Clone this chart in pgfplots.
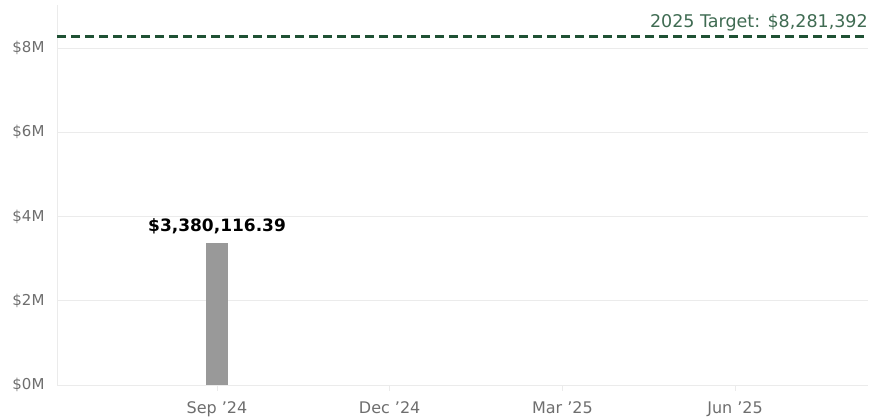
\documentclass[border=0pt]{standalone}
\usepackage{fontspec}
\setmainfont{DejaVu Sans}
\usepackage{pgfplots}
\pgfplotsset{compat=1.18}
\definecolor{gridgray}{HTML}{EBEBEB}
\definecolor{tickgray}{HTML}{6E6E6E}
\definecolor{bargray}{HTML}{999999}
\definecolor{targetgreen}{HTML}{1F5134}
\definecolor{targettext}{HTML}{3F6B52}
\begin{document}
\begin{tikzpicture}
\path[use as bounding box] (0,0) rectangle (870pt,420pt);
\begin{axis}[
    at={(57pt,35pt)}, anchor=south west,
    scale only axis,
    width=811pt, height=380pt,
    xmin=-2.78, xmax=11.31,
    ymin=0, ymax=9.02,
    axis line style={draw=none},
    xtick={0,3,6,9},
    xticklabels={Sep '24, Dec '24, Mar '25, Jun '25},
    ytick={0,2,4,6,8},
    yticklabels={\$0M,\$2M,\$4M,\$6M,\$8M},
    /pgf/number format/assume math mode=true,
    ymajorgrids,
    grid style={gridgray, line width=0.8pt},
    major tick length=6pt,
    xtick style={gridgray, line width=0.8pt},
    ytick style={draw=none},
    xtick pos=bottom,
    tick align=outside,
    ticklabel style={text=tickgray},
    xticklabel style={font=\fontsize{16}{18}\selectfont, yshift=-7pt},
    yticklabel style={font=\fontsize{15}{17}\selectfont, xshift=-3pt},
    clip=false,
]
% left edge line
\draw[gridgray, line width=0.8pt] (axis cs:-2.78,0) -- (axis cs:-2.78,9.02);
\addplot[ybar, bar width=22pt, fill=bargray, draw=none,
    nodes near coords={\$3,380,116.39},
    every node near coord/.append style={font=\bfseries\fontsize{17}{19}\selectfont, text=black, yshift=5pt}]
    coordinates {(0,3.38011639)};
\addplot[targetgreen, line width=2.8pt, dash pattern=on 9pt off 5pt]
    coordinates {(-2.78,8.281392) (11.31,8.281392)};
\node[anchor=south east, inner sep=0pt, text=targettext, font=\fontsize{17.5}{20}\selectfont]
    at (axis cs:11.31,8.281392) [yshift=5pt] {2025 Target: \$8,281,392};
\end{axis}
\end{tikzpicture}
\end{document}
